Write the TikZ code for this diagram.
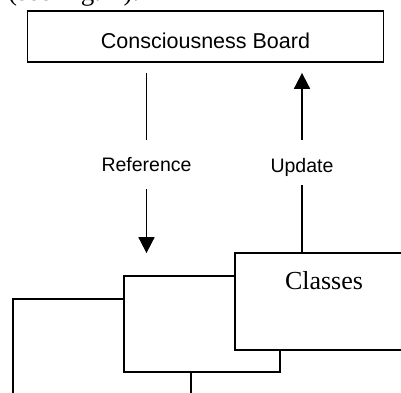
\documentclass[tikz,border=0pt]{standalone}
\usepackage{fontspec}
\setmainfont{Liberation Serif}
\newfontfamily\arialfont{Liberation Sans}
\usetikzlibrary{arrows.meta}
\begin{document}
\begin{tikzpicture}[x=1pt,y=-1pt,
  box/.style={draw,line width=1.8pt,fill=white,inner sep=0pt,rectangle},
  lbl/.style={inner sep=0pt,font=\arialfont\fontsize{19.5}{20}\selectfont},
  conn/.style={line width=1.8pt},
  arr/.style={conn,-{Triangle[width=16pt,length=16pt]}}]
\useasboundingbox (0,0) rectangle (401,392);
\clip (0,0) rectangle (401,392);
% cut-off running text above the figure
\node[anchor=base west,inner sep=0pt,font=\fontsize{27}{28}\selectfont] (toptext) at (-18.2,0.2) {w (see Fig. 2).};
% board
\node[box,minimum width=356pt,text height=37.3pt,text depth=13.7pt,
      font=\arialfont\fontsize{21.5}{22}\selectfont] (board) at (205.5,36.5) {Consciousness Board};
% labels
\node[lbl,text height=31.7pt,text depth=17.3pt,anchor=base] (refl) at (146.5,171.7) {Reference};
\node[lbl,text height=32pt,text depth=13pt,anchor=base] (updl) at (302,172) {Update};
% stacked boxes
\node[box,minimum width=178pt,minimum height=121pt] (leftbox) at (102,359.5) {};
\node[box,minimum width=156pt,minimum height=96pt] (mid) at (202,324) {};
\node[box,minimum width=178pt,text height=36pt,text depth=61pt,
      font=\fontsize{26}{27}\selectfont] (classes) at (324,301.5) {Classes};
% connectors
\draw[conn,shorten <=10pt] (board.south -| refl.north) -- (refl.north);
\draw[arr,shorten >=22pt] (refl.south) -- (mid.north -| refl.south);
\draw[arr,shorten >=10pt] (updl.north) -- (board.south -| updl.north);
\draw[conn] (classes.north -| updl.south) -- (updl.south);
\end{tikzpicture}
\end{document}
